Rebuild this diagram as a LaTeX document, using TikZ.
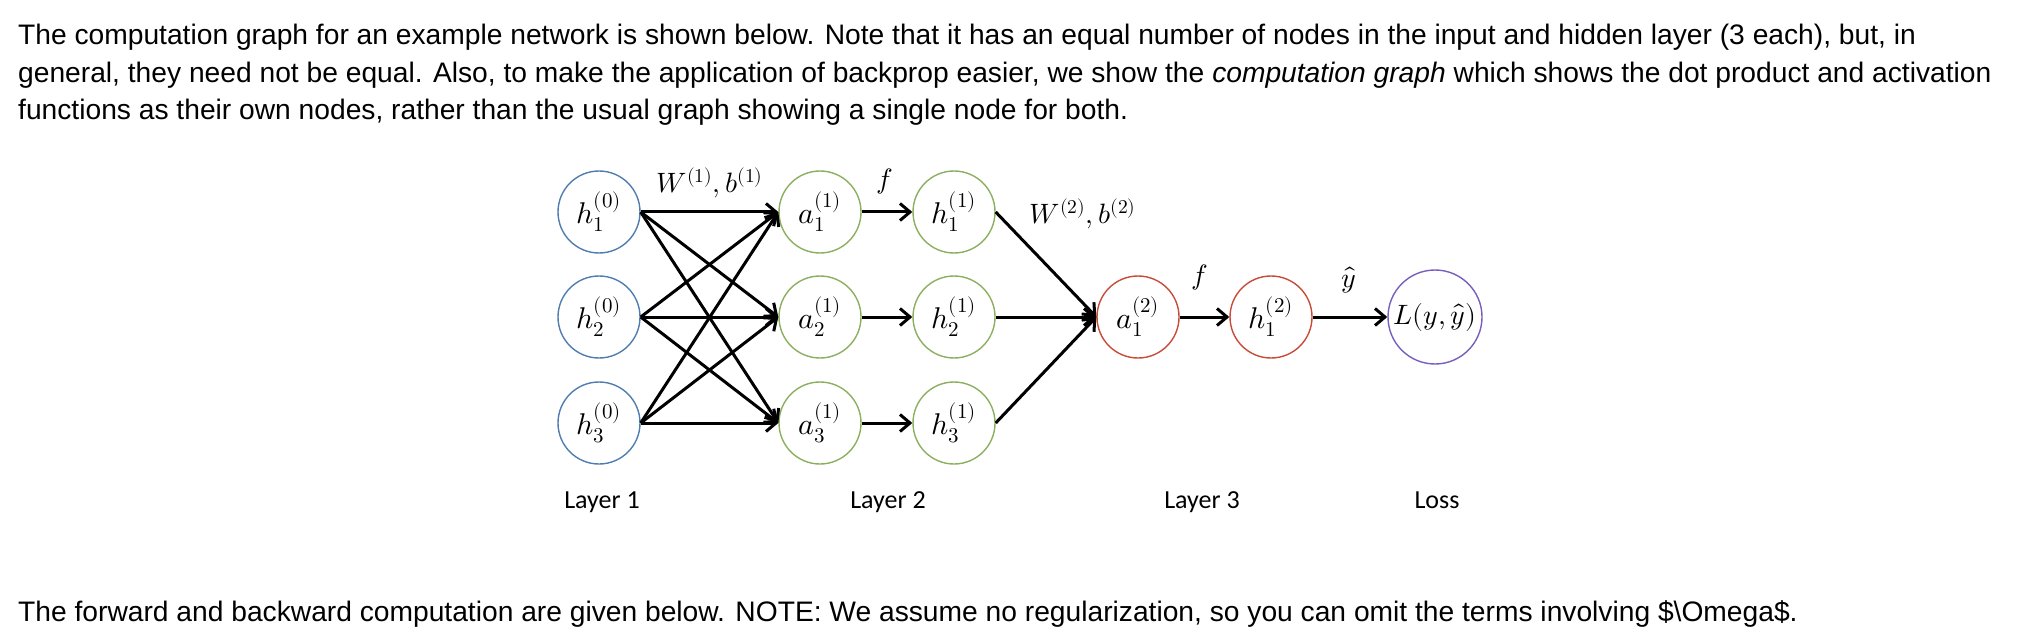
\documentclass[tikz,border=0pt]{standalone}
\usepackage{fontspec}
\usepackage{unicode-math}
\setmainfont{Liberation Sans}
\setmathfont{Latin Modern Math}
\newfontfamily\layerfont{Carlito}
\usetikzlibrary{arrows.meta}
\definecolor{nnBlue}{RGB}{80,125,175}
\definecolor{nnGreen}{RGB}{140,175,95}
\definecolor{nnRed}{RGB}{200,75,55}
\definecolor{nnPurple}{RGB}{120,95,190}
\begin{document}
\begin{tikzpicture}[x=1pt,y=-1pt,
    neuron/.style={circle,draw,line width=1.4pt,minimum size=82pt,inner sep=0pt,font=\fontsize{30}{32}\selectfont},
    wire/.style={line width=3pt,-{Straight Barb[length=10pt,width=17pt]}},
    edgelbl/.style={inner sep=1pt,font=\fontsize{28}{30}\selectfont},
    layerlbl/.style={anchor=base,font=\layerfont\fontsize{26}{30}\selectfont},
    para/.style={anchor=base west,inner sep=0pt,font=\fontsize{28.2}{34}\selectfont}]

  \useasboundingbox (0,0) rectangle (2044,636);

  % text around the graph
  \node[para] (line1) at (18,45) {The computation graph for an example network is shown below. Note that it has an equal number of nodes in the input and hidden layer (3 each), but, in};
  \node[para] (line2) at (18,83) {general, they need not be equal. Also, to make the application of backprop easier, we show the \textit{computation graph} which shows the dot product and activation};
  \node[para] (line3) at (18,120) {functions as their own nodes, rather than the usual graph showing a single node for both.};
  \node[para] (line4) at (18,621) {The forward and backward computation are given below. NOTE: We assume no regularization, so you can omit the terms involving \$\textbackslash Omega\$.};

  % layers
  \foreach \i/\y in {1/212,2/317,3/423} {
    \node[neuron,draw=nnBlue] (hin\i) at (599,\y) {$h_\i^{(0)}$};
    \node[neuron,draw=nnGreen] (act\i) at (820,\y) {$a_\i^{(1)}$};
    \node[neuron,draw=nnGreen] (hid\i) at (954,\y) {$h_\i^{(1)}$};
  }
  \node[neuron,draw=nnRed] (actout) at (1138,317) {$a_1^{(2)}$};
  \node[neuron,draw=nnRed] (hout) at (1271,317) {$h_1^{(2)}$};
  \node[neuron,draw=nnPurple,minimum size=94pt,font=\fontsize{28}{30}\selectfont] (loss) at (1435,317) {$L(y,\hat{y})$};

  % connectors
  \foreach \i in {1,2,3} {
    \foreach \j in {1,2,3}
      \draw[wire] (hin\i.east) -- (act\j.west);
    \draw[wire] (act\i.east) -- (hid\i.west);
    \draw[wire] (hid\i.east) -- (actout.west);
  }
  \draw[wire] (actout.east) -- (hout.west);
  \draw[wire] (hout.east) -- (loss.west);

  % edge labels
  \node[edgelbl] (wb1) at (710,183) {$W^{(1)},b^{(1)}$};
  \node[edgelbl] (f1) at (885,182) {$f$};
  \node[edgelbl] (wb2) at (1083,214) {$W^{(2)},b^{(2)}$};
  \node[edgelbl] (f2) at (1200,277) {$f$};
  \node[edgelbl] (yhat) at (1349,280) {$\hat{y}$};

  \node[layerlbl] (lay1) at (602,508) {Layer 1};
  \node[layerlbl] (lay2) at (888,508) {Layer 2};
  \node[layerlbl] (lay3) at (1202,508) {Layer 3};
  \node[layerlbl] (lay4) at (1437,508) {Loss};

\end{tikzpicture}
\end{document}
